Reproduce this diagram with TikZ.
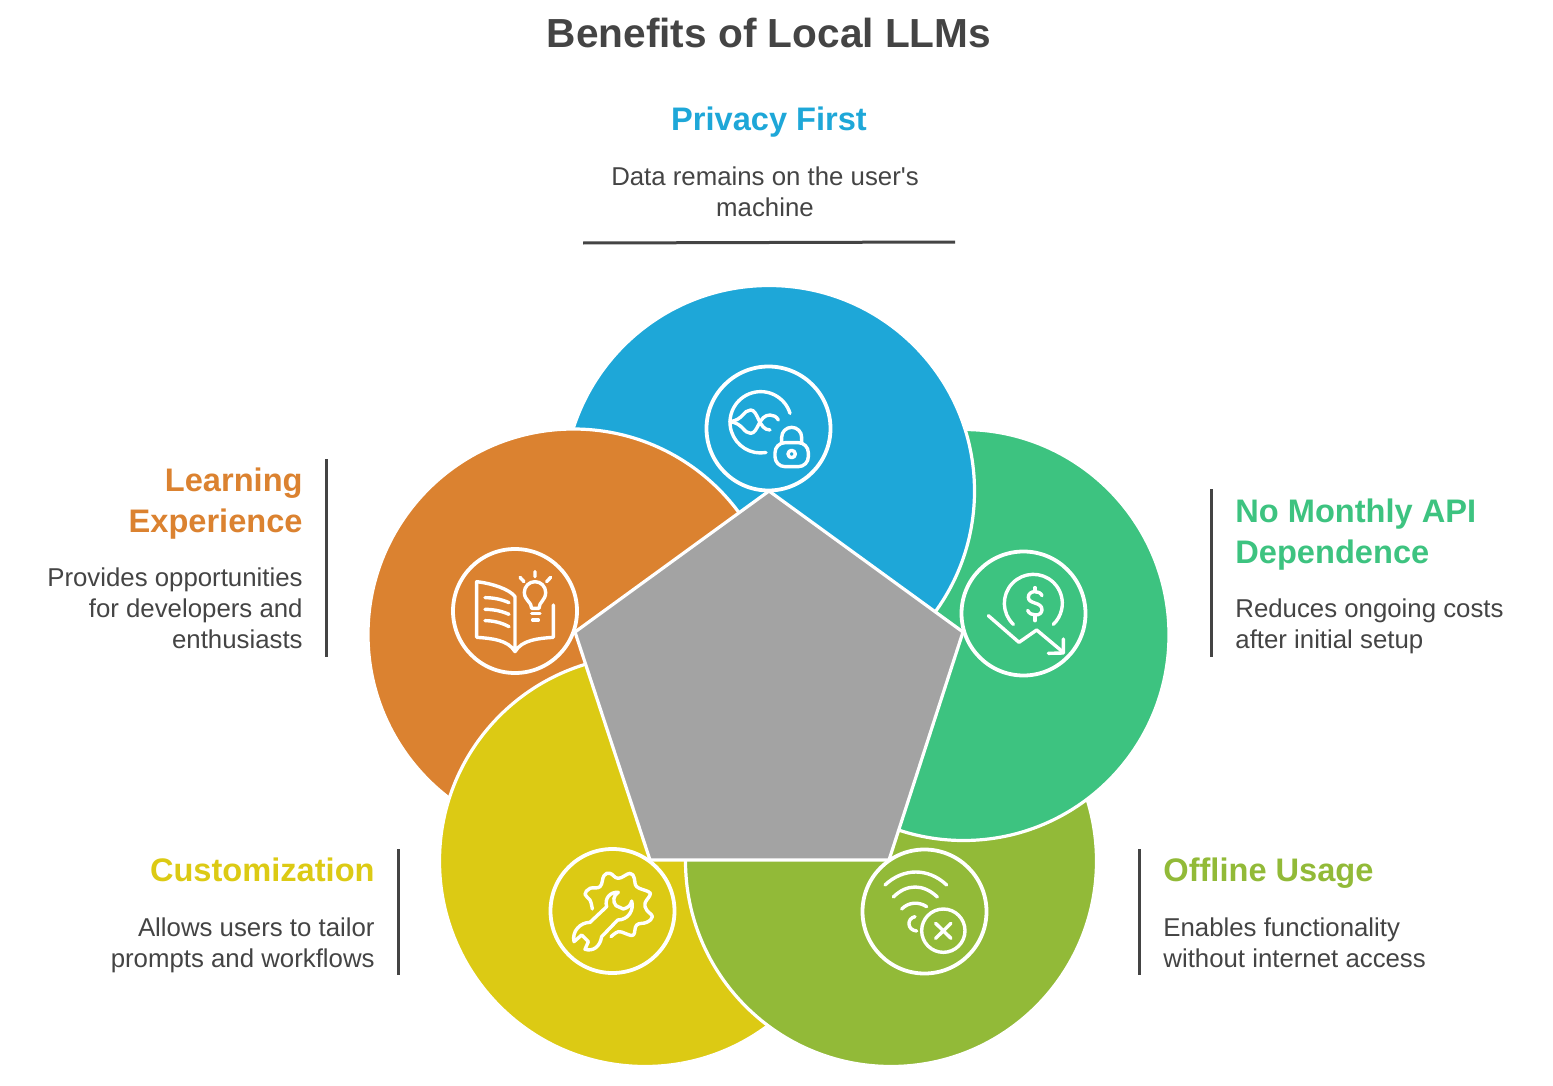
\documentclass[tikz,border=0pt]{standalone}
\usepackage{fontspec}
\setmainfont{Liberation Sans}
\definecolor{privacyblue}{HTML}{1EA7D8}
\definecolor{apigreen}{HTML}{3DC380}
\definecolor{offlineolive}{HTML}{92BA38}
\definecolor{customyellow}{HTML}{DCCA14}
\definecolor{learnorange}{HTML}{DB8230}
\definecolor{coregrey}{HTML}{A3A3A3}
\definecolor{inkdark}{HTML}{444444}
\tikzset{
  petal/.style={draw=white,line width=1.6pt},
  iconring/.style={draw=white,line width=1.9pt},
  iconline/.style={draw=white,line width=1.7pt,line cap=round,line join=round},
  bar/.style={draw=inkdark,line width=1.5pt},
  headtext/.style={font=\fontsize{16.3}{20.5}\selectfont\bfseries,inner sep=0pt},
  bodytext/.style={font=\fontsize{12.9}{15.5}\selectfont,text=inkdark,inner sep=0pt},
}
\begin{document}
\begin{tikzpicture}[x=0.5pt,y=0.5pt,yscale=-1,xscale=1]
\useasboundingbox (0,0) rectangle (1553,1086);

%Petals, each one lies over its neighbour
\draw [petal,fill=customyellow] (645,861) circle (205.5);
\draw [petal,fill=offlineolive] (891,861) circle (205.5);
\draw [petal,fill=apigreen] (963.5,635) circle (205.5);
\draw [petal,fill=privacyblue] (769,491) circle (205.5);
\draw [petal,fill=learnorange] (573.5,634.5) circle (205.5);
\begin{scope}
\clip (300,600) rectangle (680,1086);
\draw [petal,fill=customyellow] (645,861) circle (205.5);
\end{scope}

%Pentagon
\draw [petal,fill=coregrey,line join=round] (769,491) -- (963,632) -- (889,860) -- (650,860) -- (575,632) -- cycle;

%Icon rings
\draw [iconring] (768.5,428.5) circle (62);
\draw [iconring] (1023.5,613.5) circle (62);
\draw [iconring] (515,611) circle (62);
\draw [iconring] (612.5,911) circle (62);
\draw [iconring] (924.5,911.5) circle (62);

%Icon: wave and lock
\begin{scope}[shift={(690,350)},scale=1/3]
\draw [iconline] (300,190) arc [start angle=-17,end angle=-280,radius=92];
\draw [iconline] (120,215) .. controls (160,210) and (160,180) .. (182,180) .. controls (205,180) and (205,240) .. (240,240);
\draw [iconline] (120,215) .. controls (160,220) and (160,250) .. (182,250) .. controls (205,250) and (205,195) .. (240,195) .. controls (250,195) and (260,200) .. (265,210);
\draw [iconline,rounded corners=5pt] (255,278) rectangle (355,350);
\draw [iconline] (275,278) -- (275,262) arc [start angle=180,end angle=360,radius=30] -- (335,278);
\draw [iconline] (305,312) circle (11);
\end{scope}

%Icon: coin and falling arrow
\begin{scope}[shift={(945,535)},scale=1/3]
\draw [iconline] (205,268) arc [start angle=133.6,end angle=406.4,radius=87];
\draw [iconline] (291,182) .. controls (285,165) and (250,165) .. (250,187) .. controls (250,208) and (291,200) .. (291,224) .. controls (291,245) and (255,245) .. (248,226);
\draw [iconline] (270,158) -- (270,168) (270,245) -- (270,257);
\draw [iconline] (130,242) -- (222,322) -- (275,285) -- (355,352);
\draw [iconline] (355,312) -- (355,354) -- (310,355);
\end{scope}

%Icon: book and bulb
\begin{scope}[shift={(435,530)},scale=1/3]
\draw [iconline] (240,365) -- (240,200) .. controls (225,178) and (170,160) .. (125,155) -- (125,322) .. controls (170,325) and (220,330) .. (240,365) .. controls (260,330) and (310,325) .. (355,322) -- (355,225);
\draw [iconline] (150,203) .. controls (175,203) and (200,208) .. (222,218);
\draw [iconline] (150,238) .. controls (175,238) and (200,243) .. (222,253);
\draw [iconline] (150,272) .. controls (175,272) and (200,278) .. (222,290);
\draw [iconline] (290,235) .. controls (290,215) and (268,212) .. (268,187) arc [start angle=180,end angle=360,radius=32] .. controls (332,212) and (312,215) .. (312,235) -- cycle;
\draw [iconline] (290,250) -- (315,250) (293,270) -- (310,270);
\draw [iconline] (300,125) -- (300,140) (255,142) -- (267,155) (347,142) -- (335,155);
\end{scope}

%Icon: gear and wrench
\begin{scope}[shift={(535,835)},scale=1/3]
\draw [iconline] plot [smooth,tension=0.7] coordinates {(172,222) (165,195) (150,178) (165,160) (195,155) (207,122) (225,115) (250,130) (285,115) (298,130) (305,155) (340,170) (345,180) (330,205) (335,225) (352,245) (335,262) (305,270) (295,300) (270,295) (250,290) (228,305)};
\draw [iconline] (250,172) .. controls (235,180) and (232,200) .. (243,212) -- (265,222) .. controls (280,218) and (288,210) .. (290,198) .. controls (298,225) and (280,255) .. (248,255) -- (200,305) .. controls (195,335) and (175,350) .. (150,343) -- (160,320) -- (140,300) -- (117,320) .. controls (110,290) and (135,262) .. (165,262) -- (215,215) .. controls (208,190) and (225,170) .. (250,172) -- cycle;
\end{scope}

%Icon: wifi and cross
\begin{scope}[shift={(845,835)},scale=1/3]
\draw [iconline] (120,150) .. controls (175,98) and (250,98) .. (305,150);
\draw [iconline] (145,186) .. controls (185,146) and (235,146) .. (277,186);
\draw [iconline] (170,222) .. controls (192,200) and (222,200) .. (245,215);
\draw [iconline] (210,245) .. controls (185,250) and (185,285) .. (215,288);
\draw [iconline] (295,287) circle (65);
\draw [iconline] (272,265) -- (318,310) (318,265) -- (272,310);
\end{scope}

%Side bars
\draw [bar] (583,243) -- (955,242);
\draw [bar] (326,459) -- (326,657);
\draw [bar] (1211,489) -- (1211,657);
\draw [bar] (398,849) -- (398,975);
\draw [bar] (1139,849) -- (1139,975);

% Text Node
\draw (769,33) node (title) [font=\fontsize{20.3}{25}\selectfont\bfseries,text=inkdark] {Benefits of Local LLMs};
% Text Node
\draw (769,122) node (privacyhead) [headtext,text=privacyblue] {Privacy First};
\draw (765,166) node (privacybody) [bodytext,anchor=north,align=center] {Data remains on the user\textquotesingle s\\machine};
% Text Node
\draw (303,467) node (learnhead) [headtext,text=learnorange,anchor=north east,align=right] {Learning\\Experience};
\draw (303,567) node (learnbody) [bodytext,anchor=north east,align=right] {Provides opportunities\\for developers and\\enthusiasts};
% Text Node
\draw (1235,498) node (apihead) [headtext,text=apigreen,anchor=north west,align=left] {No Monthly API\\Dependence};
\draw (1235,598) node (apibody) [bodytext,anchor=north west,align=left] {Reduces ongoing costs\\after initial setup};
% Text Node
\draw (375,857) node (customhead) [headtext,text=customyellow,anchor=north east,align=right] {Customization};
\draw (375,917) node (custombody) [bodytext,anchor=north east,align=right] {Allows users to tailor\\prompts and workflows};
% Text Node
\draw (1163,857) node (offlinehead) [headtext,text=offlineolive,anchor=north west,align=left] {Offline Usage};
\draw (1163,917) node (offlinebody) [bodytext,anchor=north west,align=left] {Enables functionality\\without internet access};

\end{tikzpicture}
\end{document}
